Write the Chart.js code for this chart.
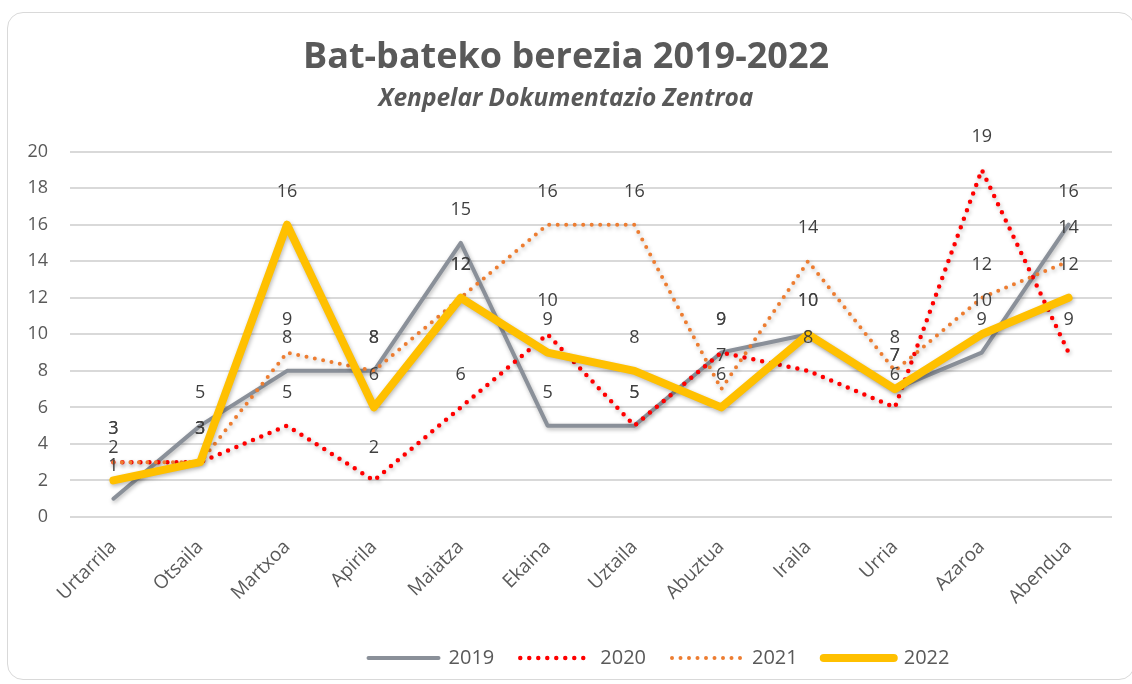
<!DOCTYPE html>
<html>
<head>
<meta charset="utf-8">
<title>Bat-bateko berezia 2019-2022</title>
<script src="https://cdn.jsdelivr.net/npm/chart.js@4.4.1/dist/chart.umd.min.js"></script>
<style>
  html, body { margin: 0; padding: 0; background: #fff; }
  #wrap { position: relative; width: 1132px; height: 684px; overflow: hidden; }
  #card {
    position: absolute; left: 7px; top: 12px; width: 1128px; height: 668px;
    border: 1.5px solid #d9d9d9; border-radius: 16px; box-sizing: border-box;
  }
  #chart { position: absolute; left: 0; top: 0; }
</style>
</head>
<body>
<div id="wrap">
  <div id="card"></div>
  <canvas id="chart" width="1132" height="684"></canvas>
</div>
<script>
// months on the x axis
const months = ['Urtarrila', 'Otsaila', 'Martxoa', 'Apirila', 'Maiatza', 'Ekaina',
                'Uztaila', 'Abuztua', 'Iraila', 'Urria', 'Azaroa', 'Abendua'];

// values per year
const y2019 = [1, 5, 8, 8, 15, 5, 5, 9, 10, 7, 9, 16];
const y2020 = [3, 3, 5, 2, 6, 10, 5, 9, 8, 6, 19, 9];
const y2021 = [3, 3, 9, 8, 12, 16, 16, 7, 14, 8, 12, 14];
const y2022 = [2, 3, 16, 6, 12, 9, 8, 6, 10, 7, 10, 12];

// y axis
const yMin = 0;
const yMax = 20;
const yStep = 2;

const FONT = '"Open Sans", "DejaVu Sans", sans-serif';

// soft shadow under the lines, like the Excel original
const lineShadow = {
  id: 'lineShadow',
  beforeDatasetsDraw(chart) {
    const ctx = chart.ctx;
    ctx.save();
    ctx.shadowColor = 'rgba(0, 0, 0, 0.28)';
    ctx.shadowBlur = 4;
    ctx.shadowOffsetX = 1;
    ctx.shadowOffsetY = 2;
  },
  afterDatasetsDraw(chart) {
    chart.ctx.restore();
  }
};

// value labels above every point
const valueLabels = {
  id: 'valueLabels',
  afterDatasetsDraw(chart) {
    const ctx = chart.ctx;
    ctx.save();
    ctx.font = '18px ' + FONT;
    ctx.fillStyle = '#404040';
    ctx.textAlign = 'center';
    ctx.textBaseline = 'middle';
    chart.data.datasets.forEach((ds, i) => {
      const meta = chart.getDatasetMeta(i);
      meta.data.forEach((pt, j) => {
        ctx.fillText(String(ds.data[j]), pt.x, pt.y - 33);
      });
    });
    ctx.restore();
  }
};

// the legend in the original sits right of centre
const legendShift = {
  id: 'legendShift',
  afterUpdate(chart) {
    const lg = chart.legend;
    if (!lg) return;
    const dx = 93, dy = -6;
    lg.left += dx; lg.right += dx;
    lg.top += dy; lg.bottom += dy;
  }
};

new Chart(document.getElementById('chart'), {
  type: 'line',
  data: {
    labels: months,
    datasets: [
      {
        label: '2019', data: y2019, order: 4,
        borderColor: '#8A9099', backgroundColor: '#8A9099',
        borderWidth: 4, borderCapStyle: 'round', borderJoinStyle: 'round'
      },
      {
        label: '2020', data: y2020, order: 3,
        borderColor: '#FF0000', backgroundColor: '#FF0000',
        borderWidth: 4.5, borderDash: [0, 9], borderCapStyle: 'round', borderJoinStyle: 'round'
      },
      {
        label: '2021', data: y2021, order: 2,
        borderColor: '#ED7D31', backgroundColor: '#ED7D31',
        borderWidth: 4, borderDash: [0, 8.5], borderCapStyle: 'round', borderJoinStyle: 'round'
      },
      {
        label: '2022', data: y2022, order: 1,
        borderColor: '#FFC000', backgroundColor: '#FFC000',
        borderWidth: 8, borderCapStyle: 'round', borderJoinStyle: 'round'
      }
    ]
  },
  options: {
    responsive: false,
    animation: false,
    devicePixelRatio: 1,
    elements: {
      point: { radius: 0, hoverRadius: 0 },
      line: { tension: 0 }
    },
    layout: { padding: { top: 10, left: 20, right: 20, bottom: 0 } },
    scales: {
      x: {
        offset: true,
        grid: { display: false },
        border: { display: false },
        ticks: {
          color: '#595959',
          font: { family: FONT, size: 19 },
          minRotation: 45, maxRotation: 45,
          padding: 11
        },
        afterFit(s) { s.height = 111; }
      },
      y: {
        min: yMin, max: yMax,
        grid: { color: '#d9d9d9', lineWidth: 2, drawTicks: false },
        border: { display: false },
        ticks: {
          stepSize: yStep,
          color: '#595959',
          font: { family: FONT, size: 18 },
          padding: 22
        },
        afterFit(s) { s.width = 50; }
      }
    },
    plugins: {
      title: {
        display: true,
        text: 'Bat-bateko berezia 2019-2022',
        color: '#595959',
        font: { family: FONT, size: 36, weight: 'bold' },
        padding: { top: 26, bottom: 5 }
      },
      subtitle: {
        display: true,
        text: 'Xenpelar Dokumentazio Zentroa',
        color: '#595959',
        font: { family: FONT, size: 24.5, weight: 'bold', style: 'italic' },
        padding: { top: 0, bottom: 38 }
      },
      legend: {
        position: 'bottom',
        labels: {
          usePointStyle: true,
          pointStyle: 'line',
          pointStyleWidth: 70,
          color: '#595959',
          font: { family: FONT, size: 20 },
          padding: 26,
          generateLabels(chart) {
            const items = Chart.defaults.plugins.legend.labels.generateLabels(chart);
            items.forEach(it => {
              const ds = chart.data.datasets[it.datasetIndex];
              it.lineWidth = ds.borderWidth;
              it.lineDash = ds.borderDash || [];
              it.lineCap = ds.borderCapStyle;
              it.strokeStyle = ds.borderColor;
            });
            return items.sort((a, b) => a.datasetIndex - b.datasetIndex);
          }
        }
      },
      tooltip: { enabled: false }
    }
  },
  plugins: [lineShadow, valueLabels, legendShift]
});
</script>
</body>
</html>
